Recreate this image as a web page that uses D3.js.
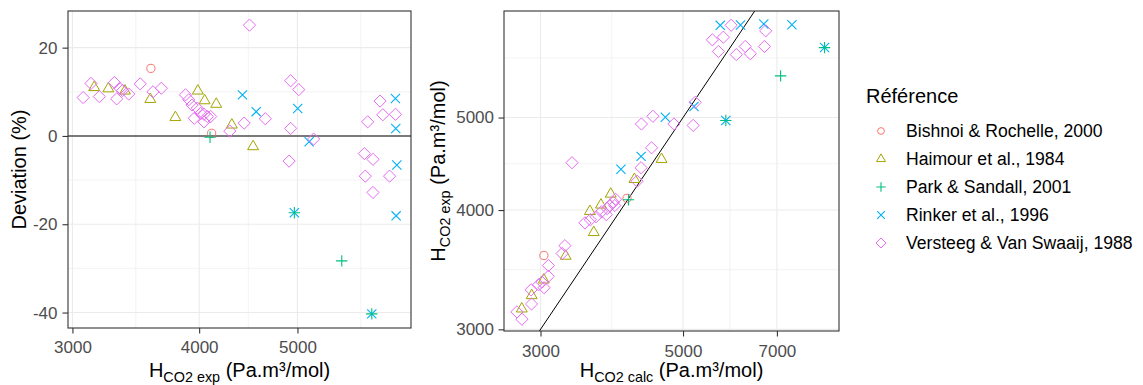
<!DOCTYPE html>
<html>
<head>
<meta charset="utf-8">
<script src="https://cdn.jsdelivr.net/npm/d3@7"></script>
<style>
  html, body { margin: 0; padding: 0; background: #fff; }
  svg { display: block; font-family: "Liberation Sans", Arial, sans-serif; }
</style>
</head>
<body>
<svg id="chart" width="1143" height="385"></svg>
<script>
// ---------------- data ----------------
const references = ["Bishnoi & Rochelle, 2000", "Haimour et al., 1984", "Park & Sandall, 2001", "Rinker et al., 1996", "Versteeg & Van Swaaij, 1988"];
const refColors = ["#F8766D", "#A3A500", "#00BF7D", "#00B0F6", "#E76BF3"];
const refShapes = ["circle", "triangle", "plus", "cross", "diamond"];
// drawing order of the references (Park drawn last so its "+" sits on top)
const drawOrder = [0, 1, 3, 4, 2];

// H_CO2 exp (Pa.m3/mol) and deviation (%) per reference
const bishnoiHexp = [3585, 4115];
const bishnoiDev  = [15.3, 0.6];
const haimourHexp = [3152, 3255, 3380, 3580, 3790, 3988, 4050, 4158, 4308, 4521];
const haimourDev  = [11.0, 10.7, 10.2, 8.3, 4.2, 10.2, 8.0, 7.2, 2.5, -2.4];
const parkHexp = [4100, 4965, 5529, 5919];
const parkDev  = [-0.3, -17.4, -28.3, -40.3];
const rinkerHexp = [4413, 4553, 5003, 5134, 6245, 6250, 6265, 6255, 4965, 5919];
const rinkerDev  = [9.3, 5.5, 6.2, -1.3, 8.5, 1.7, -6.6, -18.1, -17.4, -40.3];
const versteegHexp = [3129, 3074, 3189, 3300, 3340, 3362, 3317, 3409, 3499, 3602, 3671,
                      3878, 3907, 3936, 3983, 4014, 4044, 4075, 4106, 3956, 4044,
                      4288, 4430, 4484, 4648, 4923, 5015, 4923, 5187, 4906,
                      6031, 5864, 6069, 6246, 5820, 5935, 5832, 6163, 5935];
const versteegDev  = [11.9, 8.7, 8.9, 12.1, 10.8, 10.3, 8.4, 9.5, 11.8, 10.0, 10.8,
                      9.3, 8.2, 7.0, 6.3, 5.1, 4.9, 4.4, 4.4, 4.0, 3.2,
                      1.1, 2.9, 25.1, 3.9, 12.5, 10.5, 1.7, -0.7, -5.7,
                      7.9, 3.2, 4.8, 4.9, -4.0, -5.3, -9.1, -9.1, -12.8];

// tick values
const leftXTicks = [3000, 4000, 5000];
const leftYTicks = [-40, -20, 0, 20];
const rightXTicks = [3000, 5000, 7000];
const rightYTicks = [3000, 4000, 5000];

const hExpByRef = [bishnoiHexp, haimourHexp, parkHexp, rinkerHexp, versteegHexp];
const devByRef  = [bishnoiDev, haimourDev, parkDev, rinkerDev, versteegDev];

// H_calc is derived from deviation = (H_exp - H_calc) / H_exp * 100
const points = [];
drawOrder.forEach(r => hExpByRef[r].forEach((h, i) => {
  const dev = devByRef[r][i];
  points.push({ ref: r, hExp: h, dev: dev, hCalc: h * (1 - dev / 100) });
}));

// ---------------- layout ----------------
const svg = d3.select("#chart");
const FONT_TICK = 17, FONT_TITLE = 20, FONT_SUB = 14.4, FONT_LEG = 17.6;

const L = { x0: 68, x1: 411, y0: 11, y1: 328 };
const R = { x0: 504, x1: 839, y0: 11, y1: 331 };

const xL = d3.scaleLog().domain([2970, 6470]).range([L.x0, L.x1]);
const yL = d3.scaleLinear().domain([-43.5, 28.3]).range([L.y1, L.y0]);
const xR = d3.scaleLog().domain([2632, 8745]).range([R.x0, R.x1]);
const yR = d3.scaleLog().domain([2988, 6465]).range([R.y1, R.y0]);

// minor breaks: midpoints in transformed space (with extension, like ggplot)
function minorLog(br) {
  const lb = br.map(Math.log);
  const bd = lb[1] - lb[0];
  const ext = [lb[0] - bd, ...lb, lb[lb.length - 1] + bd];
  const out = [];
  for (let i = 0; i < ext.length - 1; i++) out.push(Math.exp((ext[i] + ext[i + 1]) / 2));
  return out;
}
function minorLin(br) {
  const bd = br[1] - br[0];
  const ext = [br[0] - bd, ...br, br[br.length - 1] + bd];
  const out = [];
  for (let i = 0; i < ext.length - 1; i++) out.push((ext[i] + ext[i + 1]) / 2);
  return out;
}

// ---------------- symbols ----------------
function drawSymbol(g, shape, cx, cy, color, s) {
  s = s || 1;
  if (shape === "circle") {
    g.append("circle").attr("cx", cx).attr("cy", cy).attr("r", 4.1 * s)
      .attr("fill", "none").attr("stroke", color).attr("stroke-width", 1);
  } else if (shape === "triangle") {
    const r = 6.3 * s;
    const p = [[cx, cy - r], [cx + r * Math.sqrt(3) / 2, cy + r / 2], [cx - r * Math.sqrt(3) / 2, cy + r / 2]];
    g.append("path").attr("d", "M" + p.map(q => q.join(",")).join("L") + "Z")
      .attr("fill", "none").attr("stroke", color).attr("stroke-width", 1);
  } else if (shape === "plus") {
    const h = 5.7 * s;
    g.append("path").attr("d", `M${cx - h},${cy}L${cx + h},${cy}M${cx},${cy - h}L${cx},${cy + h}`)
      .attr("fill", "none").attr("stroke", color).attr("stroke-width", 1.1);
  } else if (shape === "cross") {
    const h = 4.6 * s;
    g.append("path").attr("d", `M${cx - h},${cy - h}L${cx + h},${cy + h}M${cx - h},${cy + h}L${cx + h},${cy - h}`)
      .attr("fill", "none").attr("stroke", color).attr("stroke-width", 1.1);
  } else if (shape === "diamond") {
    const h = 6.1 * s;
    g.append("path").attr("d", `M${cx},${cy - h}L${cx + h},${cy}L${cx},${cy + h}L${cx - h},${cy}Z`)
      .attr("fill", "none").attr("stroke", color).attr("stroke-width", 1);
  }
}

// ---------------- panel helper ----------------
function panel(P, xs, ys, xMaj, yMaj, xMin, yMin, id) {
  const g = svg.append("g");
  const defs = svg.append("defs");
  defs.append("clipPath").attr("id", id).append("rect")
    .attr("x", P.x0).attr("y", P.y0).attr("width", P.x1 - P.x0).attr("height", P.y1 - P.y0);
  const grid = g.append("g").attr("clip-path", `url(#${id})`);
  xMin.forEach(v => grid.append("line").attr("x1", xs(v)).attr("x2", xs(v)).attr("y1", P.y0).attr("y2", P.y1)
    .attr("stroke", "#EBEBEB").attr("stroke-width", 0.6));
  yMin.forEach(v => grid.append("line").attr("y1", ys(v)).attr("y2", ys(v)).attr("x1", P.x0).attr("x2", P.x1)
    .attr("stroke", "#EBEBEB").attr("stroke-width", 0.6));
  xMaj.forEach(v => grid.append("line").attr("x1", xs(v)).attr("x2", xs(v)).attr("y1", P.y0).attr("y2", P.y1)
    .attr("stroke", "#EBEBEB").attr("stroke-width", 1.1));
  yMaj.forEach(v => grid.append("line").attr("y1", ys(v)).attr("y2", ys(v)).attr("x1", P.x0).attr("x2", P.x1)
    .attr("stroke", "#EBEBEB").attr("stroke-width", 1.1));
  return { g, clip: grid };
}

function axes(P, xs, ys, xTicks, yTicks, xPad, yPad) {
  const fmt = d => String(d);   // plain hyphen-minus, as in the reference
  const ax = svg.append("g").attr("transform", `translate(0,${P.y1})`)
    .call(d3.axisBottom(xs).tickValues(xTicks).tickFormat(fmt).tickSize(5.5).tickPadding(xPad));
  const ay = svg.append("g").attr("transform", `translate(${P.x0},0)`)
    .call(d3.axisLeft(ys).tickValues(yTicks).tickFormat(fmt).tickSize(5.5).tickPadding(yPad));
  [ax, ay].forEach(a => {
    a.select(".domain").remove();
    a.selectAll(".tick line").attr("stroke", "#333333").attr("stroke-width", 1.1);
    a.selectAll(".tick text").attr("fill", "#4D4D4D").style("font-size", FONT_TICK + "px")
      .style("font-family", '"Liberation Sans", Arial, sans-serif');
  });
}

function border(P) {
  svg.append("rect").attr("x", P.x0).attr("y", P.y0).attr("width", P.x1 - P.x0).attr("height", P.y1 - P.y0)
    .attr("fill", "none").attr("stroke", "#333333").attr("stroke-width", 1.1);
}

function hTitle(x, y, sub, rotate) {
  const t = svg.append("text").attr("text-anchor", "middle").attr("fill", "#000")
    .style("font-size", FONT_TITLE + "px");
  if (rotate) t.attr("transform", `translate(${x},${y}) rotate(-90)`);
  else t.attr("x", x).attr("y", y);
  t.append("tspan").text("H");
  t.append("tspan").attr("dy", 5).style("font-size", FONT_SUB + "px").text(sub);
  t.append("tspan").attr("dy", -5).text(" (Pa.m³/mol)");
}

// ---------------- left panel ----------------
const pl = panel(L, xL, yL, leftXTicks, leftYTicks, minorLog(leftXTicks), minorLin(leftYTicks), "clipL");
pl.clip.append("line").attr("x1", L.x0).attr("x2", L.x1).attr("y1", yL(0)).attr("y2", yL(0))
  .attr("stroke", "#000").attr("stroke-width", 1.1);
const ptsL = pl.clip.append("g");
points.forEach(d => drawSymbol(ptsL, refShapes[d.ref], xL(d.hExp), yL(d.dev), refColors[d.ref]));
border(L);
axes(L, xL, yL, leftXTicks, leftYTicks, 7.5, 5);
hTitle((L.x0 + L.x1) / 2, 377, "CO2 exp", false);
svg.append("text").attr("transform", `translate(26,${(L.y0 + L.y1) / 2}) rotate(-90)`)
  .attr("text-anchor", "middle").style("font-size", FONT_TITLE + "px").attr("fill", "#000")
  .text("Deviation (%)");

// ---------------- right panel ----------------
const pr = panel(R, xR, yR, rightXTicks, rightYTicks, minorLog(rightXTicks), minorLog(rightYTicks), "clipR");
const diag = [2000, 10000];
pr.clip.append("line").attr("x1", xR(diag[0])).attr("y1", yR(diag[0])).attr("x2", xR(diag[1])).attr("y2", yR(diag[1]))
  .attr("stroke", "#000").attr("stroke-width", 1);
const ptsR = pr.clip.append("g");
points.forEach(d => drawSymbol(ptsR, refShapes[d.ref], xR(d.hCalc), yR(d.hExp), refColors[d.ref]));
border(R);
axes(R, xR, yR, rightXTicks, rightYTicks, 8, 4.5);
hTitle((R.x0 + R.x1) / 2, 377, "CO2 calc", false);
hTitle(445, (R.y0 + R.y1) / 2, "CO2 exp", true);

// ---------------- legend ----------------
const lg = svg.append("g");
lg.append("text").attr("x", 866).attr("y", 103).style("font-size", FONT_TITLE + "px").attr("fill", "#000")
  .text("Référence");
references.forEach((name, i) => {
  const cy = 131 + i * 28;
  drawSymbol(lg, refShapes[i], 881, cy, refColors[i], 0.82);
  lg.append("text").attr("x", 906).attr("y", cy + 6.3).style("font-size", FONT_LEG + "px").attr("fill", "#000")
    .text(name);
});
</script>
</body>
</html>
